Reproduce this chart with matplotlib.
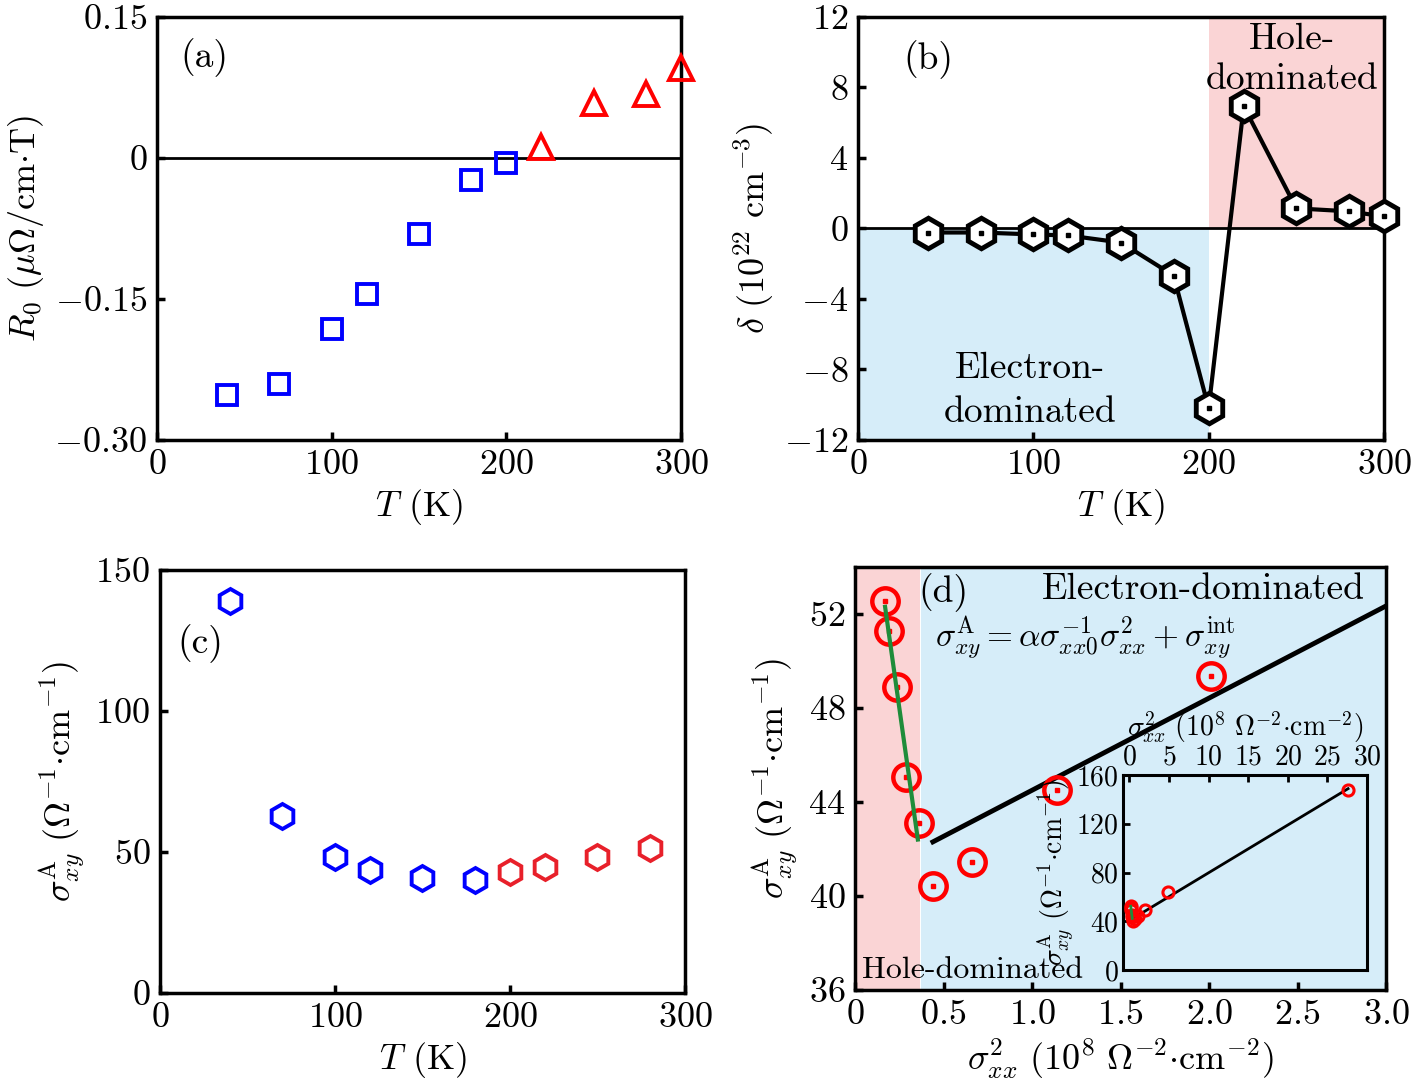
import numpy as np
import matplotlib
matplotlib.use('Agg')
import matplotlib.pyplot as plt

plt.rcParams['font.family'] = 'serif'
plt.rcParams['font.serif'] = ['cmr10']
plt.rcParams['mathtext.fontset'] = 'cm'
plt.rcParams['axes.formatter.use_mathtext'] = True
plt.rcParams['axes.linewidth'] = 2.5
plt.rcParams['font.size'] = 26

# (a) normal Hall coefficient
T_a_elec = [40, 70, 100, 120, 150, 180, 200]
R0_elec = [-0.252, -0.240, -0.182, -0.145, -0.081, -0.023, -0.005]
T_a_hole = [220, 250, 280, 300]
R0_hole = [0.012, 0.058, 0.068, 0.096]

# (b) carrier density difference
T_b = [40, 70, 100, 120, 150, 180, 200, 220, 250, 280, 300]
delta = [-0.23, -0.23, -0.34, -0.40, -0.80, -2.67, -10.2, 6.93, 1.14, 0.97, 0.68]

# (c) anomalous Hall conductivity
T_c_elec = [40, 70, 100, 120, 150, 180]
sig_c_elec = [139.0, 62.8, 48.2, 43.6, 40.8, 40.1]
T_c_hole = [200, 220, 250, 280]
sig_c_hole = [42.9, 44.7, 48.2, 51.4]

# (d) scaling
sxx2 = [0.17, 0.19, 0.24, 0.29, 0.36, 0.44, 0.66, 1.14, 2.01, 4.9, 27.6]
sig_d = [52.55, 51.28, 48.9, 45.05, 43.1, 40.42, 41.44, 44.5, 49.37, 64.0, 148.0]
fit_hole_x = [0.17, 0.355]
fit_hole_y = [52.3, 42.4]
fit_elec_x = [0.44, 27.6]
fit_elec_y = [42.3, 148.8]

xticks_T = [0, 100, 200, 300]
yticks_a = [-0.30, -0.15, 0, 0.15]
ylabels_a = ['$-0.30$', '$-0.15$', '$0$', '$0.15$']
yticks_b = [-12, -8, -4, 0, 4, 8, 12]
yticks_c = [0, 50, 100, 150]
xticks_d = [0, 0.5, 1.0, 1.5, 2.0, 2.5, 3.0]
xlabels_d = ['$0$', '$0.5$', '$1.0$', '$1.5$', '$2.0$', '$2.5$', '$3.0$']
yticks_d = [36, 40, 44, 48, 52]
xticks_in = [0, 5, 10, 15, 20, 25, 30]
yticks_in = [0, 40, 80, 120, 160]

blue_bg = '#d6edf9'
red_bg = '#fad4d5'
ann = 27

fig = plt.figure(figsize=(14.13, 10.85), dpi=100)
ax_a = fig.add_axes([0.1111, 0.5945, 0.3708, 0.3899])
ax_b = fig.add_axes([0.6072, 0.5945, 0.3723, 0.3899])
ax_c = fig.add_axes([0.1132, 0.0848, 0.3715, 0.3899])
ax_d = fig.add_axes([0.6051, 0.0876, 0.3758, 0.3899])
ax_in = fig.add_axes([0.7948, 0.106, 0.1727, 0.1797])


def style(ax):
    ax.tick_params(direction='in', length=6, width=2.5, top=False, right=False, pad=7)


# panel (a)
ax_a.axhline(0, color='black', lw=2)
ax_a.plot(T_a_elec, R0_elec, 's', ms=14, mfc='none', mec='#0000ff', mew=2.8, clip_on=False)
ax_a.plot(T_a_hole, R0_hole, '^', ms=17, mfc='none', mec='#ff0000', mew=2.8, clip_on=False, zorder=5)
ax_a.set_xlim(0, 300)
ax_a.set_ylim(-0.30, 0.15)
ax_a.set_xticks(xticks_T)
ax_a.set_yticks(yticks_a)
ax_a.set_yticklabels(ylabels_a)
ax_a.set_xlabel('$T$ (K)', labelpad=4)
ax_a.set_ylabel(r'$R_0\ (\mu\Omega/\mathrm{cm}{\cdot}\mathrm{T})$', labelpad=6)
ax_a.text(0.044, 0.905, '(a)', transform=ax_a.transAxes, ha='left', va='center', fontsize=ann)
style(ax_a)

# panel (b)
ax_b.axvspan(0, 200, ymin=0, ymax=0.5, color=blue_bg, lw=0)
ax_b.axvspan(200, 300, ymin=0.5, ymax=1, color=red_bg, lw=0)
ax_b.axhline(0, color='black', lw=2)
ax_b.plot(T_b, delta, '-', color='black', lw=3, zorder=4)
ax_b.plot(T_b, delta, 'h', ms=22, mfc='white', mec='black', mew=3.5, clip_on=False, zorder=5)
ax_b.plot(T_b, delta, 's', ms=3.5, color='black', clip_on=False, zorder=6)
ax_b.set_xlim(0, 300)
ax_b.set_ylim(-12, 12)
ax_b.set_xticks(xticks_T)
ax_b.set_yticks(yticks_b)
ax_b.set_xlabel('$T$ (K)', labelpad=4)
ax_b.set_ylabel(r'$\delta\ (10^{22}\ \mathrm{cm}^{-3})$', labelpad=6)
ax_b.text(0.086, 0.898, '(b)', transform=ax_b.transAxes, ha='left', va='center', fontsize=ann)
ax_b.text(0.825, 0.9, 'Hole-\ndominated', transform=ax_b.transAxes, ha='center', va='center',
          linespacing=1.25, fontsize=ann)
ax_b.text(0.327, 0.118, 'Electron-\ndominated', transform=ax_b.transAxes, ha='center', va='center',
          linespacing=1.4, fontsize=ann)
style(ax_b)

# panel (c)
ax_c.plot(T_c_elec, sig_c_elec, 'h', ms=18, mfc='none', mec='#0000ff', mew=2.8)
ax_c.plot(T_c_hole, sig_c_hole, 'h', ms=18, mfc='none', mec='#e8202a', mew=2.8)
ax_c.set_xlim(0, 300)
ax_c.set_ylim(0, 150)
ax_c.set_xticks(xticks_T)
ax_c.set_yticks(yticks_c)
ax_c.set_xlabel('$T$ (K)', labelpad=4)
ax_c.set_ylabel(r'$\sigma^{\mathrm{A}}_{xy}\ (\Omega^{-1}{\cdot}\mathrm{cm}^{-1})$', labelpad=6)
ax_c.text(0.034, 0.827, '(c)', transform=ax_c.transAxes, ha='left', va='center', fontsize=ann)
style(ax_c)

# panel (d)
ax_d.axvspan(0, 0.365, color=red_bg, lw=0)
ax_d.axvspan(0.372, 3.0, color=blue_bg, lw=0)
ax_d.plot(fit_elec_x, fit_elec_y, '-', color='black', lw=3.5, zorder=3)
ax_d.plot(fit_hole_x, fit_hole_y, '-', color='#1e8c3a', lw=3, zorder=6)
ax_d.plot(sxx2, sig_d, 'o', ms=19, mfc='none', mec='#ff0000', mew=3.2, zorder=5)
ax_d.plot(sxx2, sig_d, 's', ms=3.5, color='#ff0000', zorder=5)
ax_d.set_xlim(0, 3.0)
ax_d.set_ylim(36, 54)
ax_d.set_xticks(xticks_d)
ax_d.set_xticklabels(xlabels_d)
ax_d.set_yticks(yticks_d)
ax_d.set_xlabel(r'$\sigma^{2}_{xx}\ (10^{8}\ \Omega^{-2}{\cdot}\mathrm{cm}^{-2})$', labelpad=4)
ax_d.set_ylabel(r'$\sigma^{\mathrm{A}}_{xy}\ (\Omega^{-1}{\cdot}\mathrm{cm}^{-1})$', labelpad=6)
ax_d.text(0.119, 0.939, '(d)', transform=ax_d.transAxes, ha='left', va='center', fontsize=ann)
ax_d.text(0.96, 0.946, 'Electron-dominated', transform=ax_d.transAxes, ha='right', va='center',
          fontsize=ann)
ax_d.text(0.151, 0.832,
          r'$\sigma^{\mathrm{A}}_{xy}=\alpha\sigma^{-1}_{xx0}\sigma^{2}_{xx}+\sigma^{\mathrm{int}}_{xy}$',
          transform=ax_d.transAxes, ha='left', va='center', fontsize=24)
ax_d.text(0.013, 0.047, 'Hole-dominated', transform=ax_d.transAxes, ha='left', va='center',
          fontsize=23)
style(ax_d)

# inset
ax_in.set_facecolor('none')
ax_in.plot(fit_elec_x, fit_elec_y, '-', color='black', lw=2)
ax_in.plot(fit_hole_x, fit_hole_y, '-', color='#1e8c3a', lw=2, zorder=6)
ax_in.plot(sxx2, sig_d, 'o', ms=8, mfc='none', mec='#ff0000', mew=2.2, zorder=5)
ax_in.set_xlim(-0.8, 30)
ax_in.set_ylim(0, 160)
ax_in.set_xticks(xticks_in)
ax_in.set_yticks(yticks_in)
ax_in.xaxis.tick_top()
ax_in.xaxis.set_label_position('top')
ax_in.tick_params(direction='in', length=5, width=2, labelsize=20, pad=3)
ax_in.set_xlabel(r'$\sigma^{2}_{xx}\ (10^{8}\ \Omega^{-2}{\cdot}\mathrm{cm}^{-2})$', fontsize=20, labelpad=6)
ax_in.set_ylabel(r'$\sigma^{\mathrm{A}}_{xy}\ (\Omega^{-1}{\cdot}\mathrm{cm}^{-1})$', fontsize=20, labelpad=0)
for s in ax_in.spines.values():
    s.set_linewidth(2.2)

fig.savefig('out.png', dpi=100)
